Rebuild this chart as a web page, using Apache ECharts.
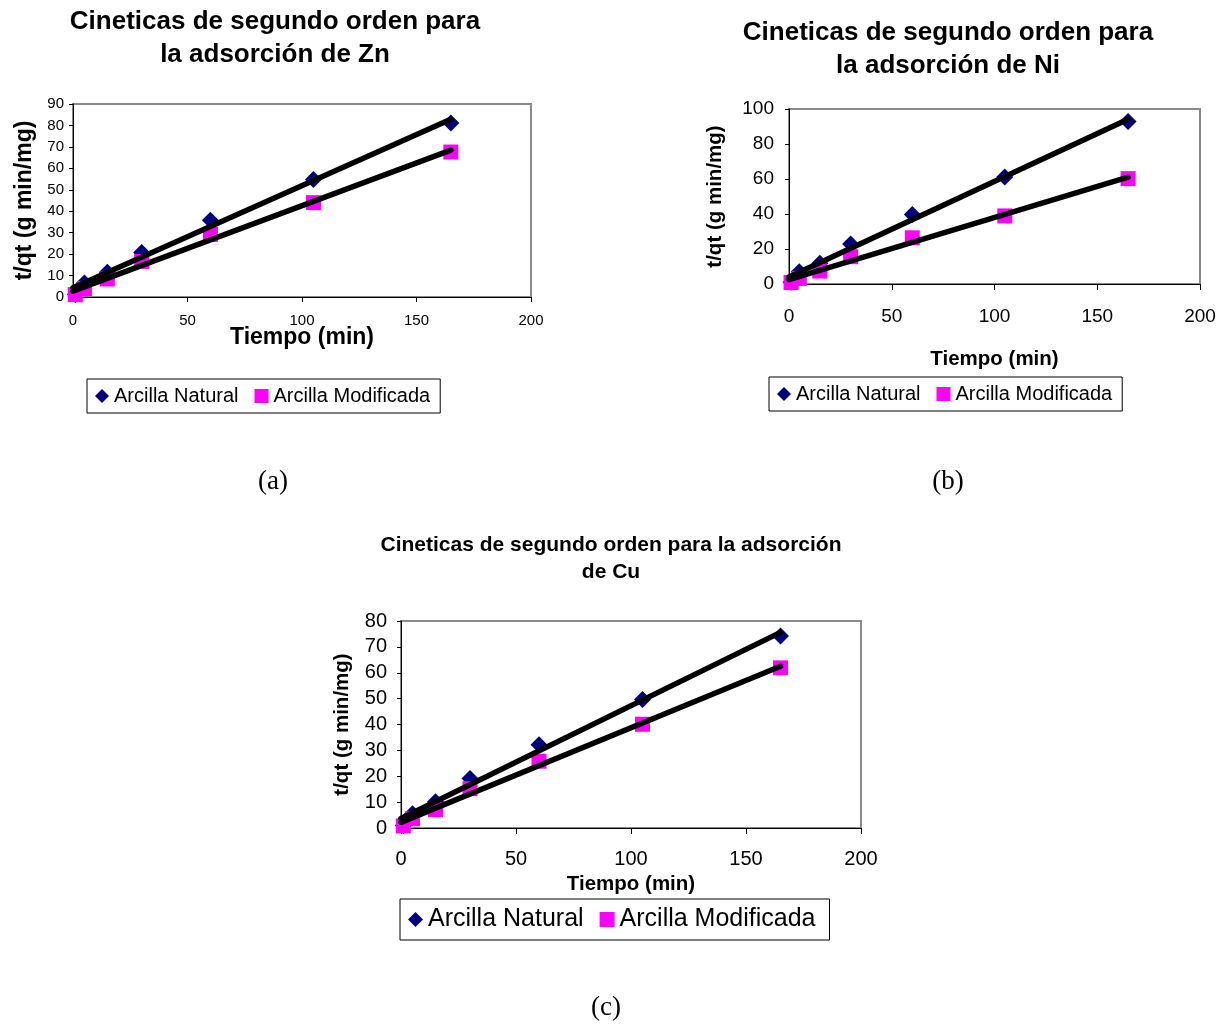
<!DOCTYPE html>
<html>
<head>
<meta charset="utf-8">
<script src="https://cdn.jsdelivr.net/npm/echarts@6/dist/echarts.min.js"></script>
<style>
  html, body { margin: 0; padding: 0; background: #fff; }
  #chart { width: 1217px; height: 1024px; }
</style>
</head>
<body>
<div id="chart"></div>
<script>
// Tiempo de contacto (min), común a los tres metales
const tiempo = [1, 5, 15, 30, 60, 105, 165];

// t/qt (g min/mg) para Zn, Ni y Cu
const naturalZn    = [1.2, 6.5, 11.5, 20.8, 35.8, 54.8, 81.1];
const modificadaZn = [1.1, 3.9, 8.4, 16.6, 29.2, 44.0, 67.6];
const naturalNi    = [1.0, 7.0, 11.8, 22.8, 39.7, 61.1, 92.8];
const modificadaNi = [0.8, 3.2, 7.4, 15.6, 26.4, 38.9, 60.2];
const naturalCu    = [1.0, 5.5, 10.1, 19.1, 32.2, 49.7, 74.2];
const modificadaCu = [0.8, 3.6, 7.1, 15.2, 25.8, 40.1, 61.9];

const xTicks = [0, 50, 100, 150, 200];
const yMaxZn = 90, yStepZn = 10;
const yMaxNi = 100, yStepNi = 20;
const yMaxCu = 80, yStepCu = 10;

const FONT = '"Liberation Sans", Arial, sans-serif';
const NAVY = '#000080';
const MAGENTA = '#FF00FF';

// Recta de mínimos cuadrados (línea de tendencia lineal)
function ajusteLineal(xs, ys) {
  const n = xs.length;
  const mx = xs.reduce((s, v) => s + v, 0) / n;
  const my = ys.reduce((s, v) => s + v, 0) / n;
  let sxy = 0, sxx = 0;
  for (let i = 0; i < n; i++) {
    sxy += (xs[i] - mx) * (ys[i] - my);
    sxx += (xs[i] - mx) * (xs[i] - mx);
  }
  const m = sxy / sxx;
  const b = my - m * mx;
  const x1 = Math.max(...xs);
  return [[0, b], [x1, b + m * x1]];
}

const pares = (xs, ys) => xs.map((x, i) => [x, ys[i]]);

const panels = [
  { grid: { left: 73, top: 104, width: 458, height: 193 },
    yMax: yMaxZn, yStep: yStepZn, nat: naturalZn, mod: modificadaZn,
    tick: 15, xMargin: 16, yMargin: 9, tickLen: 5,
    nameSize: 23, xGap: 29, yGap: 37 },
  { grid: { left: 789, top: 109, width: 411, height: 175 },
    yMax: yMaxNi, yStep: yStepNi, nat: naturalNi, mod: modificadaNi,
    tick: 19, xMargin: 23, yMargin: 15, tickLen: 6,
    nameSize: 20.5, xGap: 65, yGap: 63 },
  { grid: { left: 401, top: 621, width: 460, height: 207 },
    yMax: yMaxCu, yStep: yStepCu, nat: naturalCu, mod: modificadaCu,
    tick: 20, xMargin: 21, yMargin: 14, tickLen: 6,
    nameSize: 20.5, xGap: 46, yGap: 48 }
];

const grids = [], xAxes = [], yAxes = [], series = [];
panels.forEach((p, k) => {
  grids.push(Object.assign({
    show: true, borderColor: '#8a8a8a', borderWidth: 2,
    containLabel: false, outerBoundsMode: 'none'
  }, p.grid));
  xAxes.push({
    type: 'value', gridIndex: k, min: xTicks[0], max: xTicks[xTicks.length - 1],
    interval: xTicks[1] - xTicks[0],
    name: 'Tiempo (min)', nameLocation: 'middle', nameGap: p.xGap, nameMoveOverlap: false,
    nameTextStyle: { fontFamily: FONT, fontWeight: 'bold', fontSize: p.nameSize, color: '#000' },
    axisLine: { show: true, onZero: false, lineStyle: { color: '#000', width: 1 } },
    axisTick: { show: true, inside: false, length: p.tickLen, lineStyle: { color: '#000' } },
    axisLabel: { fontFamily: FONT, fontSize: p.tick, color: '#000', margin: p.xMargin },
    splitLine: { show: false }
  });
  yAxes.push({
    type: 'value', gridIndex: k, min: 0, max: p.yMax, interval: p.yStep,
    name: 't/qt (g min/mg)', nameLocation: 'middle', nameGap: p.yGap, nameMoveOverlap: false,
    nameTextStyle: { fontFamily: FONT, fontWeight: 'bold', fontSize: p.nameSize, color: '#000' },
    axisLine: { show: true, onZero: false, lineStyle: { color: '#000', width: 1 } },
    axisTick: { show: true, inside: false, length: 4, lineStyle: { color: '#000' } },
    axisLabel: { fontFamily: FONT, fontSize: p.tick, color: '#000', margin: p.yMargin },
    splitLine: { show: false }
  });
  series.push({
    name: 'Arcilla Natural', type: 'scatter', xAxisIndex: k, yAxisIndex: k,
    symbol: 'diamond', symbolSize: 17, itemStyle: { color: NAVY, opacity: 1 },
    data: pares(tiempo, p.nat), z: 2
  });
  series.push({
    name: 'Arcilla Modificada', type: 'scatter', xAxisIndex: k, yAxisIndex: k,
    symbol: 'rect', symbolSize: 15, itemStyle: { color: MAGENTA, opacity: 1 },
    data: pares(tiempo, p.mod), z: 2
  });
  [p.nat, p.mod].forEach((ys, j) => {
    series.push({
      name: 'Tendencia ' + k + '-' + j, type: 'line', xAxisIndex: k, yAxisIndex: k,
      showSymbol: false, symbol: 'none', silent: true, z: 3,
      lineStyle: { color: '#000', width: 5.5, cap: 'round' },
      data: ajusteLineal(tiempo, ys)
    });
  });
});

const legendItems = () => [
  { name: 'Arcilla Natural', icon: 'diamond' },
  { name: 'Arcilla Modificada', icon: 'rect', itemStyle: { color: MAGENTA } }
];
function leyenda(left, top, size, pad, gap, icon, textGap) {
  return {
    left: left, top: top, orient: 'horizontal',
    data: legendItems(),
    padding: pad, itemGap: gap, itemWidth: icon, itemHeight: icon, itemTextGap: textGap,
    borderColor: '#000', borderWidth: 1, backgroundColor: '#fff',
    textStyle: { fontFamily: FONT, fontSize: size, color: '#000' },
    selectedMode: false
  };
}

const titulo = (text, x, y, size, lh) => ({
  type: 'text', x: x, y: y,
  style: { text: text, fontFamily: FONT, fontWeight: 'bold', fontSize: size,
           lineHeight: lh, fill: '#000', textAlign: 'center', textVerticalAlign: 'top' }
});
const rotulo = (text, x, y) => ({
  type: 'text', x: x, y: y,
  style: { text: text, fontFamily: '"Liberation Serif", "Times New Roman", serif',
           fontSize: 27, fill: '#000', textAlign: 'center', textVerticalAlign: 'middle' }
});

const chart = echarts.init(document.getElementById('chart'));
chart.setOption({
  backgroundColor: '#fff',
  animation: false,
  grid: grids,
  xAxis: xAxes,
  yAxis: yAxes,
  series: series,
  legend: [
    leyenda(87, 379, 20, [7, 10, 7, 8], 16, 14, 4),
    leyenda(769, 377, 20, [7, 10, 7, 8], 16, 14, 4),
    leyenda(400, 899, 25, [8, 14, 8, 8], 16, 15, 5)
  ],
  graphic: [
    titulo('Cineticas de segundo orden para\nla adsorción de Zn', 275, 5, 26, 33),
    titulo('Cineticas de segundo orden para\nla adsorción de Ni', 948, 16, 26, 33),
    titulo('Cineticas de segundo orden para la adsorción\nde Cu', 611, 532, 21, 27),
    rotulo('(a)', 273, 482),
    rotulo('(b)', 948, 482),
    rotulo('(c)', 606, 1008)
  ]
});
</script>
</body>
</html>
